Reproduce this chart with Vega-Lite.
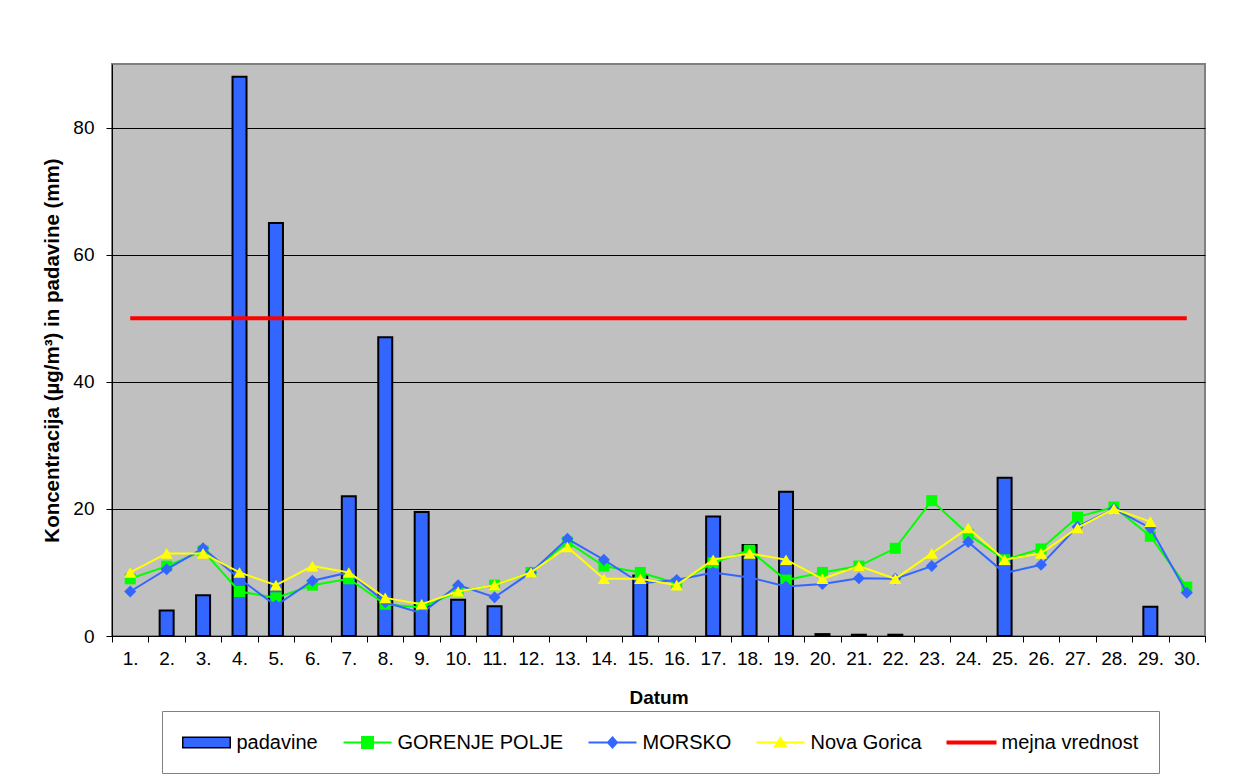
{
  "$schema": "https://vega.github.io/schema/vega-lite/v6.json",
  "width": 1093,
  "height": 572,
  "autosize": {"type": "none"},
  "padding": {"left": 112, "top": 64, "right": 41, "bottom": 140},
  "background": "#FFFFFF",
  "config": {
    "font": "Liberation Sans",
    "view": {"fill": "#C0C0C0", "stroke": "#808080", "strokeWidth": 2},
    "axis": {
      "labelFont": "Liberation Sans",
      "titleFont": "Liberation Sans",
      "labelColor": "#000000",
      "titleColor": "#000000",
      "domainColor": "#000000",
      "tickColor": "#000000",
      "labelFontSize": 19,
      "titleFontSize": 19,
      "titleFontWeight": "bold",
      "tickSize": 6
    },
    "legend": {
      "labelFont": "Liberation Sans",
      "labelFontSize": 20,
      "labelColor": "#000000",
      "labelLimit": 400
    }
  },
  "data": {
    "values": [
      {"d": 2, "s": "padavine", "v": 4},
      {"d": 3, "s": "padavine", "v": 6.4},
      {"d": 4, "s": "padavine", "v": 88},
      {"d": 5, "s": "padavine", "v": 65},
      {"d": 7, "s": "padavine", "v": 22},
      {"d": 8, "s": "padavine", "v": 47},
      {"d": 9, "s": "padavine", "v": 19.5},
      {"d": 10, "s": "padavine", "v": 5.7},
      {"d": 11, "s": "padavine", "v": 4.7},
      {"d": 15, "s": "padavine", "v": 9.5},
      {"d": 17, "s": "padavine", "v": 18.8},
      {"d": 18, "s": "padavine", "v": 14.3},
      {"d": 19, "s": "padavine", "v": 22.7},
      {"d": 20, "s": "padavine", "v": 0.3},
      {"d": 21, "s": "padavine", "v": 0.2},
      {"d": 22, "s": "padavine", "v": 0.2},
      {"d": 25, "s": "padavine", "v": 24.9},
      {"d": 29, "s": "padavine", "v": 4.6},

      {"d": 1, "s": "GORENJE POLJE", "v": 9.0},
      {"d": 2, "s": "GORENJE POLJE", "v": 11.0},
      {"d": 3, "s": "GORENJE POLJE", "v": 13.4},
      {"d": 4, "s": "GORENJE POLJE", "v": 7.0},
      {"d": 5, "s": "GORENJE POLJE", "v": 6.0},
      {"d": 6, "s": "GORENJE POLJE", "v": 8.0},
      {"d": 7, "s": "GORENJE POLJE", "v": 9.0},
      {"d": 8, "s": "GORENJE POLJE", "v": 5.0},
      {"d": 9, "s": "GORENJE POLJE", "v": 4.5},
      {"d": 10, "s": "GORENJE POLJE", "v": 7.0},
      {"d": 11, "s": "GORENJE POLJE", "v": 8.0},
      {"d": 12, "s": "GORENJE POLJE", "v": 10.0},
      {"d": 13, "s": "GORENJE POLJE", "v": 14.8},
      {"d": 14, "s": "GORENJE POLJE", "v": 11.0},
      {"d": 15, "s": "GORENJE POLJE", "v": 10.0},
      {"d": 16, "s": "GORENJE POLJE", "v": 8.3},
      {"d": 17, "s": "GORENJE POLJE", "v": 11.5},
      {"d": 18, "s": "GORENJE POLJE", "v": 13.5},
      {"d": 19, "s": "GORENJE POLJE", "v": 8.8},
      {"d": 20, "s": "GORENJE POLJE", "v": 10.0},
      {"d": 21, "s": "GORENJE POLJE", "v": 11.0},
      {"d": 22, "s": "GORENJE POLJE", "v": 13.8},
      {"d": 23, "s": "GORENJE POLJE", "v": 21.3},
      {"d": 24, "s": "GORENJE POLJE", "v": 16.0},
      {"d": 25, "s": "GORENJE POLJE", "v": 12.0},
      {"d": 26, "s": "GORENJE POLJE", "v": 13.7},
      {"d": 27, "s": "GORENJE POLJE", "v": 18.7},
      {"d": 28, "s": "GORENJE POLJE", "v": 20.3},
      {"d": 29, "s": "GORENJE POLJE", "v": 15.7},
      {"d": 30, "s": "GORENJE POLJE", "v": 7.7},

      {"d": 1, "s": "MORSKO", "v": 7.0},
      {"d": 2, "s": "MORSKO", "v": 10.5},
      {"d": 3, "s": "MORSKO", "v": 13.8},
      {"d": 4, "s": "MORSKO", "v": 9.0},
      {"d": 5, "s": "MORSKO", "v": 4.8},
      {"d": 6, "s": "MORSKO", "v": 8.7},
      {"d": 7, "s": "MORSKO", "v": 10.0},
      {"d": 8, "s": "MORSKO", "v": 5.3},
      {"d": 9, "s": "MORSKO", "v": 3.6},
      {"d": 10, "s": "MORSKO", "v": 8.0},
      {"d": 11, "s": "MORSKO", "v": 6.1},
      {"d": 12, "s": "MORSKO", "v": 10.0},
      {"d": 13, "s": "MORSKO", "v": 15.3},
      {"d": 14, "s": "MORSKO", "v": 12.0},
      {"d": 15, "s": "MORSKO", "v": 8.3},
      {"d": 16, "s": "MORSKO", "v": 8.8},
      {"d": 17, "s": "MORSKO", "v": 10.0},
      {"d": 18, "s": "MORSKO", "v": 9.2},
      {"d": 19, "s": "MORSKO", "v": 7.8},
      {"d": 20, "s": "MORSKO", "v": 8.2},
      {"d": 21, "s": "MORSKO", "v": 9.1},
      {"d": 22, "s": "MORSKO", "v": 9.0},
      {"d": 23, "s": "MORSKO", "v": 11.0},
      {"d": 24, "s": "MORSKO", "v": 14.8},
      {"d": 25, "s": "MORSKO", "v": 9.9},
      {"d": 26, "s": "MORSKO", "v": 11.2},
      {"d": 27, "s": "MORSKO", "v": 17.2},
      {"d": 28, "s": "MORSKO", "v": 20.0},
      {"d": 29, "s": "MORSKO", "v": 17.0},
      {"d": 30, "s": "MORSKO", "v": 6.8},

      {"d": 1, "s": "Nova Gorica", "v": 10},
      {"d": 2, "s": "Nova Gorica", "v": 13},
      {"d": 3, "s": "Nova Gorica", "v": 13},
      {"d": 4, "s": "Nova Gorica", "v": 10},
      {"d": 5, "s": "Nova Gorica", "v": 8},
      {"d": 6, "s": "Nova Gorica", "v": 11},
      {"d": 7, "s": "Nova Gorica", "v": 10},
      {"d": 8, "s": "Nova Gorica", "v": 6},
      {"d": 9, "s": "Nova Gorica", "v": 5},
      {"d": 10, "s": "Nova Gorica", "v": 7},
      {"d": 11, "s": "Nova Gorica", "v": 8},
      {"d": 12, "s": "Nova Gorica", "v": 10},
      {"d": 13, "s": "Nova Gorica", "v": 14},
      {"d": 14, "s": "Nova Gorica", "v": 9},
      {"d": 15, "s": "Nova Gorica", "v": 9},
      {"d": 16, "s": "Nova Gorica", "v": 8},
      {"d": 17, "s": "Nova Gorica", "v": 12},
      {"d": 18, "s": "Nova Gorica", "v": 13},
      {"d": 19, "s": "Nova Gorica", "v": 12},
      {"d": 20, "s": "Nova Gorica", "v": 9},
      {"d": 21, "s": "Nova Gorica", "v": 11},
      {"d": 22, "s": "Nova Gorica", "v": 9},
      {"d": 23, "s": "Nova Gorica", "v": 13},
      {"d": 24, "s": "Nova Gorica", "v": 17},
      {"d": 25, "s": "Nova Gorica", "v": 12},
      {"d": 26, "s": "Nova Gorica", "v": 13},
      {"d": 27, "s": "Nova Gorica", "v": 17},
      {"d": 28, "s": "Nova Gorica", "v": 20},
      {"d": 29, "s": "Nova Gorica", "v": 18},

      {"d": 1, "s": "mejna vrednost", "v": 50},
      {"d": 2, "s": "mejna vrednost", "v": 50},
      {"d": 3, "s": "mejna vrednost", "v": 50},
      {"d": 4, "s": "mejna vrednost", "v": 50},
      {"d": 5, "s": "mejna vrednost", "v": 50},
      {"d": 6, "s": "mejna vrednost", "v": 50},
      {"d": 7, "s": "mejna vrednost", "v": 50},
      {"d": 8, "s": "mejna vrednost", "v": 50},
      {"d": 9, "s": "mejna vrednost", "v": 50},
      {"d": 10, "s": "mejna vrednost", "v": 50},
      {"d": 11, "s": "mejna vrednost", "v": 50},
      {"d": 12, "s": "mejna vrednost", "v": 50},
      {"d": 13, "s": "mejna vrednost", "v": 50},
      {"d": 14, "s": "mejna vrednost", "v": 50},
      {"d": 15, "s": "mejna vrednost", "v": 50},
      {"d": 16, "s": "mejna vrednost", "v": 50},
      {"d": 17, "s": "mejna vrednost", "v": 50},
      {"d": 18, "s": "mejna vrednost", "v": 50},
      {"d": 19, "s": "mejna vrednost", "v": 50},
      {"d": 20, "s": "mejna vrednost", "v": 50},
      {"d": 21, "s": "mejna vrednost", "v": 50},
      {"d": 22, "s": "mejna vrednost", "v": 50},
      {"d": 23, "s": "mejna vrednost", "v": 50},
      {"d": 24, "s": "mejna vrednost", "v": 50},
      {"d": 25, "s": "mejna vrednost", "v": 50},
      {"d": 26, "s": "mejna vrednost", "v": 50},
      {"d": 27, "s": "mejna vrednost", "v": 50},
      {"d": 28, "s": "mejna vrednost", "v": 50},
      {"d": 29, "s": "mejna vrednost", "v": 50},
      {"d": 30, "s": "mejna vrednost", "v": 50}
    ]
  },
  "encoding": {
    "x": {
      "field": "d",
      "type": "ordinal",
      "scale": {"paddingInner": 0, "paddingOuter": 0},
      "axis": {
        "title": "Datum",
        "labelAngle": 0,
        "labelExpr": "datum.label ? datum.label + '.' : ''",
        "tickBand": "extent",
        "labelPadding": 7,
        "titlePadding": 20,
        "grid": false
      }
    },
    "y": {
      "field": "v",
      "type": "quantitative",
      "scale": {"domain": [0, 90], "nice": false},
      "axis": {
        "title": "Koncentracija (µg/m³) in padavine (mm)",
        "titleFontSize": 20.5,
        "values": [0, 20, 40, 60, 80],
        "grid": true,
        "gridColor": "#000000",
        "gridWidth": 1,
        "labelPadding": 12,
        "titlePadding": 10
      }
    }
  },
  "layer": [
    {
      "transform": [{"filter": "datum.s === 'padavine'"}],
      "mark": {"type": "bar", "width": 14, "fill": "#3366FF", "strokeWidth": 2, "opacity": 1},
      "encoding": {
        "stroke": {
          "field": "s",
          "type": "nominal",
          "scale": {"domain": ["padavine"], "range": ["#000000"]},
          "legend": {
            "title": null,
            "orient": "none",
            "legendX": 50,
            "legendY": 647,
            "direction": "horizontal",
            "padding": 20.5,
            "symbolType": "M-1.05,-0.5H3.65V0.5H-1.05Z",
            "symbolSize": 400,
            "symbolStrokeWidth": 2,
            "labelOffset": 32,
            "labelFontSize": 20,
            "labelOpacity": 0
          }
        }
      }
    },
    {
      "transform": [{"filter": "datum.s === 'GORENJE POLJE'"}],
      "mark": {"type": "line", "strokeWidth": 2, "point": {"filled": true, "shape": "square", "size": 121, "opacity": 1}},
      "encoding": {
        "color": {
          "field": "s",
          "type": "nominal",
          "scale": {
            "domain": ["padavine", "GORENJE POLJE", "MORSKO", "Nova Gorica", "mejna vrednost"],
            "range": ["#3366FF", "#00FF00", "#3366FF", "#FFFF00", "#FF0000"]
          },
          "legend": {
            "title": null,
            "orient": "none",
            "legendX": 50,
            "legendY": 647,
            "direction": "horizontal",
            "padding": 20.5,
            "strokeColor": "#808080",
            "symbolSize": 400,
            "symbolStrokeWidth": 2,
            "labelOffset": 32,
            "columnPadding": 21,
            "labelFontSize": 20,
            "labelLimit": 400,
            "encode": {
              "symbols": {
                "update": {
                  "shape": {"signal": "datum.value === 'padavine' ? 'M-0.9,-0.35H3.5V0.35H-0.9Z' : datum.value === 'GORENJE POLJE' ? 'M-1.1,0H3.7M0.75,-0.55H1.85V0.55H0.75Z' : datum.value === 'MORSKO' ? 'M-1.1,0H3.7M1.3,-0.5L1.75,0L1.3,0.5L0.85,0Z' : datum.value === 'Nova Gorica' ? 'M-1.1,0H3.7M1.3,-0.45L1.85,0.4H0.75Z' : 'M-1.1,-0.1H3.7V0.1H-1.1Z'"},
                  "strokeWidth": {"value": 2},
                  "opacity": {"value": 1}
                }
              }
            }
          }
        }
      }
    },
    {
      "transform": [{"filter": "datum.s === 'MORSKO'"}],
      "mark": {"type": "line", "strokeWidth": 2, "point": {"filled": true, "shape": "diamond", "size": 144, "opacity": 1}},
      "encoding": {"color": {"field": "s", "type": "nominal"}}
    },
    {
      "transform": [{"filter": "datum.s === 'Nova Gorica'"}],
      "mark": {"type": "line", "strokeWidth": 2, "point": {"filled": true, "shape": "triangle-up", "size": 150, "opacity": 1}},
      "encoding": {"color": {"field": "s", "type": "nominal"}}
    },
    {
      "transform": [{"filter": "datum.s === 'mejna vrednost'"}],
      "mark": {"type": "line", "strokeWidth": 4},
      "encoding": {"color": {"field": "s", "type": "nominal"}}
    }
  ]
}
